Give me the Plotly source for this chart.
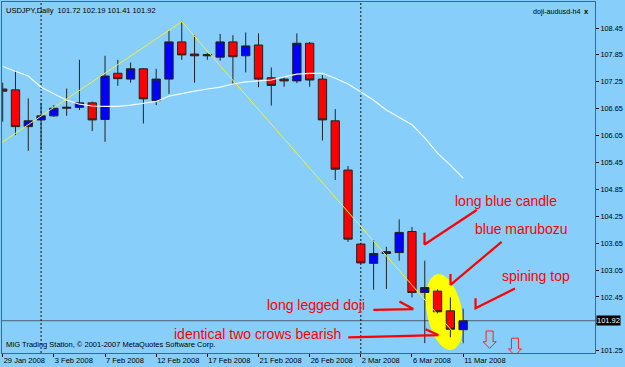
import numpy as np
import plotly.graph_objects as go

# ---------------- data ----------------
bar_index = list(range(37))
opens = [107.09, 107.07, 106.25, 106.40, 106.49, 106.66, 106.68, 106.78, 106.41, 107.44,
         107.31, 107.54, 106.83, 107.31, 108.14, 107.87, 107.86, 107.80, 108.14, 107.83,
         108.07, 107.34, 107.31, 107.27, 108.11, 107.31, 106.38, 105.28, 103.63, 103.20,
         103.42, 103.44, 103.91, 102.55, 102.58, 102.14, 101.72]
highs = [107.23, 107.50, 106.88, 106.78, 106.73, 107.10, 107.74, 106.81, 107.83, 107.74,
         107.68, 107.55, 107.54, 108.39, 108.59, 108.29, 107.89, 108.32, 108.29, 108.35,
         108.33, 107.57, 107.36, 108.33, 108.14, 107.40, 106.64, 105.37, 103.66, 103.72,
         103.57, 104.18, 104.01, 103.26, 102.62, 102.44, 102.19]
lows = [106.36, 106.06, 105.71, 105.73, 106.47, 106.49, 106.62, 106.15, 105.91, 107.16,
        107.23, 106.32, 106.73, 106.98, 107.74, 107.23, 107.74, 107.72, 107.20, 107.46,
        107.13, 106.72, 107.14, 107.22, 107.14, 105.94, 105.06, 103.68, 103.19, 102.61,
        102.63, 103.26, 102.44, 101.42, 102.08, 101.55, 101.41]
closes = [107.04, 106.25, 106.38, 106.49, 106.66, 106.68, 106.78, 106.40, 107.38, 107.32,
          107.54, 106.87, 107.31, 108.14, 107.85, 107.83, 107.83, 108.14, 107.81, 108.05,
          107.31, 107.17, 107.27, 108.11, 107.29, 106.40, 105.30, 103.74, 103.21, 103.42,
          103.46, 103.89, 102.55, 102.66, 102.12, 101.73, 101.92]
ma_values = [107.59, 107.49, 107.38, 107.13, 106.98, 106.84, 106.75, 106.71, 106.70, 106.70,
             106.73, 106.77, 106.81, 106.93, 106.99, 107.04, 107.09, 107.13, 107.20, 107.25,
             107.27, 107.29, 107.36, 107.42, 107.44, 107.44, 107.33, 107.20, 107.02, 106.84,
             106.62, 106.46, 106.29, 106.00, 105.66, 105.39, 105.10]
zigzag_x = [-1, 14, 36]
zigzag_y = [105.72, 108.59, 101.41]

date_tick_index = [0, 4, 8, 12, 16, 20, 24, 28, 32, 36]
date_tick_labels = ["29 Jan 2008", "3 Feb 2008", "7 Feb 2008", "12 Feb 2008", "17 Feb 2008",
                    "21 Feb 2008", "26 Feb 2008", "2 Mar 2008", "6 Mar 2008", "11 Mar 2008"]
price_ticks = [101.25, 101.85, 102.45, 103.05, 103.65, 104.25, 104.85,
               105.45, 106.05, 106.65, 107.25, 107.85, 108.45]
price_tick_labels = ["101.25", "", "102.45", "103.05", "103.65", "104.25", "104.85",
                     "105.45", "106.05", "106.65", "107.25", "107.85", "108.45"]
separator_index = [3, 28]
last_price = 101.92

# annotation texts (index, price)
note_texts = ["long blue candle", "blue marubozu", "spining top",
              "long legged doji", "identical two crows bearish"]
note_x = [35.18, 36.79, 38.88, 20.51, 13.21]
note_y = [104.59, 103.96, 102.92, 102.27, 101.62]
# arrows: start -> tip -> leg end
arrow_x = [[37.06, 32.98, 32.98], [39.01, 35.01, 35.01], [40.05, 36.97, 36.97],
           [28.98, 32.10, 31.02], [27.02, 34.06, 33.06]]
arrow_y = [[104.39, 103.62, 103.88], [103.68, 102.72, 102.96], [102.64, 102.20, 102.42],
           [102.16, 102.18, 102.35], [101.55, 101.60, 101.73]]
down_arrow_x = [38.07, 40.05]
down_arrow_y = [101.69, 101.53]
ellipse_center = (34.54, 102.115)

BG = "#87CEFA"
FRAME = "#4a6580"
FONT = "Liberation Sans, Arial, sans-serif"

fig = go.Figure()

# yellow highlighter ellipse (pixel-sized, anchored at data point)
theta = np.deg2rad(11)
t = np.linspace(0, 2 * np.pi, 60)
a, b = 38.5, 17.5
dx = a * np.cos(t) * np.sin(theta) + b * np.sin(t) * np.cos(theta)
dy_down = a * np.cos(t) * np.cos(theta) - b * np.sin(t) * np.sin(theta)
pts = ["%.2f,%.2f" % (x, -y) for x, y in zip(dx, dy_down)]
ell_path = "M " + " L ".join(pts) + " Z"
fig.add_shape(type="path", path=ell_path, xref="x", yref="y",
              xsizemode="pixel", ysizemode="pixel",
              xanchor=ellipse_center[0], yanchor=ellipse_center[1],
              fillcolor="#FFFF00", line=dict(width=0), layer="below")

# last price horizontal line
fig.add_shape(type="line", xref="paper", x0=0, x1=1, yref="y", y0=last_price, y1=last_price,
              line=dict(color="#4d5f70", width=1), layer="below")

# period separators
for s in separator_index:
    fig.add_shape(type="line", xref="x", x0=s, x1=s, yref="paper", y0=0, y1=1,
                  line=dict(color="#111111", width=1, dash="2px,2px"), layer="below")

# zigzag
fig.add_trace(go.Scatter(x=zigzag_x, y=zigzag_y, mode="lines",
                         line=dict(color="#F0F040", width=1), hoverinfo="skip", showlegend=False))
# moving average
fig.add_trace(go.Scatter(x=bar_index, y=ma_values, mode="lines",
                         line=dict(color="#F4FAFF", width=1.2), hoverinfo="skip", showlegend=False))

# candles
fig.add_trace(go.Candlestick(
    x=bar_index, open=opens, high=highs, low=lows, close=closes,
    increasing=dict(fillcolor="#0000FF", line=dict(color="#222222", width=1)),
    decreasing=dict(fillcolor="#FF0000", line=dict(color="#222222", width=1)),
    hoverinfo="skip", showlegend=False))

# red hand-drawn arrows
for ax_, ay_ in zip(arrow_x, arrow_y):
    fig.add_trace(go.Scatter(x=ax_, y=ay_, mode="lines",
                             line=dict(color="#FF0000", width=2.2), hoverinfo="skip",
                             showlegend=False))

# hollow down arrows
arrow_path = "M -3.5,0 L 3.5,0 L 3.5,-10.7 L 6.5,-10.7 L 0,-17.3 L -6.5,-10.7 L -3.5,-10.7 Z"
for xx, yy in zip(down_arrow_x, down_arrow_y):
    fig.add_shape(type="path", path=arrow_path, xref="x", yref="y",
                  xsizemode="pixel", ysizemode="pixel", xanchor=xx, yanchor=yy,
                  line=dict(color="#FF2020", width=1), fillcolor="rgba(0,0,0,0)")

# red notes
for txt, xx, yy in zip(note_texts, note_x, note_y):
    fig.add_annotation(x=xx, y=yy, xref="x", yref="y", text=txt, showarrow=False,
                       xanchor="left", yanchor="middle",
                       font=dict(family=FONT, size=14, color="#FF0000"))

# header / footer texts
fig.add_annotation(xref="paper", yref="paper", x=0, y=1, xanchor="left", yanchor="top",
                   xshift=2, yshift=-2, showarrow=False,
                   text="USDJPY,Daily  101.72 102.19 101.41 101.92",
                   font=dict(family=FONT, size=7.5, color="black"))
fig.add_annotation(xref="paper", yref="paper", x=1, y=1, xanchor="right", yanchor="top",
                   xshift=-12, yshift=-3, showarrow=False, text="doji-audusd-h4",
                   font=dict(family=FONT, size=7.2, color="black"))
fig.add_annotation(xref="paper", yref="paper", x=1, y=1, xanchor="right", yanchor="top",
                   xshift=-4, yshift=-3, showarrow=False, text="<b>x</b>",
                   font=dict(family=FONT, size=7.5, color="black"))
fig.add_annotation(xref="paper", yref="paper", x=0, y=0, xanchor="left", yanchor="bottom",
                   xshift=2, yshift=2, showarrow=False,
                   text="MIG Trading Station, \u00a9 2001-2007 MetaQuotes Software Corp.",
                   font=dict(family=FONT, size=7.5, color="black"))
# last price box
fig.add_annotation(xref="paper", yref="y", x=1, y=last_price, xanchor="left", yanchor="middle",
                   xshift=1, showarrow=False, text="%.2f" % last_price, bgcolor="black",
                   borderpad=0, font=dict(family=FONT, size=7.5, color="white"))

fig.update_layout(
    width=625, height=367, autosize=False,
    margin=dict(l=2, r=30, t=2, b=14),
    paper_bgcolor=BG, plot_bgcolor=BG,
    boxgap=0.35, boxgroupgap=0,
    font=dict(family=FONT, size=7.5, color="black"),
    xaxis=dict(range=[-0.055, 46.31], showgrid=False, zeroline=False,
               rangeslider=dict(visible=False),
               tickmode="array", tickvals=date_tick_index, ticktext=date_tick_labels,
               ticks="outside", ticklen=3, tickcolor="black",
               ticklabelposition="outside right",
               tickfont=dict(family=FONT, size=7.5, color="black"),
               showline=True, linecolor=FRAME, linewidth=1, mirror=True),
    yaxis=dict(range=[101.20, 109.03], side="right", showgrid=False, zeroline=False,
               tickmode="array", tickvals=price_ticks, ticktext=price_tick_labels,
               ticks="outside", ticklen=3, tickcolor="black",
               tickfont=dict(family=FONT, size=7.3, color="black"),
               showline=True, linecolor=FRAME, linewidth=1, mirror=True),
)

fig.write_html("out.html")
